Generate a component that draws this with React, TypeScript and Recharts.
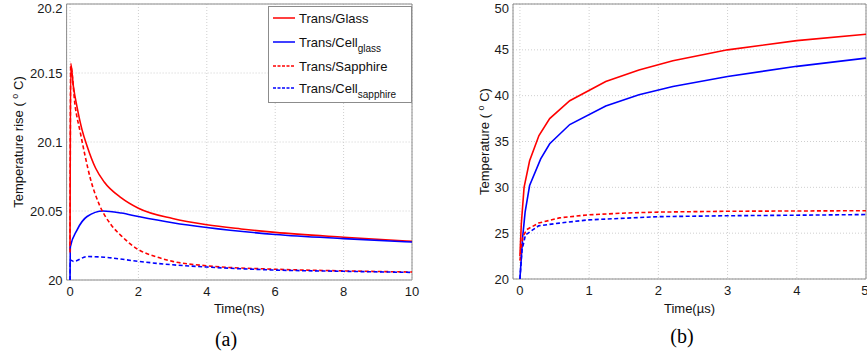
import React from "react";
import { LineChart, Line, XAxis, YAxis, CartesianGrid, ReferenceArea, Legend } from "recharts";

// (a) nanosecond window
const nsTicks = [0, 2, 4, 6, 8, 10];
const riseTicks = [20, 20.05, 20.1, 20.15, 20.2];

const glassNsTime = [0, 0.02, 0.1, 0.2, 0.35, 0.5, 0.75, 1, 1.5, 2, 3, 4, 5, 6, 8, 10];
const glassNsTemp = [20.022, 20.157, 20.14, 20.126, 20.109, 20.097, 20.081, 20.071, 20.0595, 20.052, 20.0445, 20.04, 20.037, 20.0345, 20.031, 20.028];

const cellGlassNsTime = [0, 0.01, 0.2, 0.5, 0.97, 1.5, 2, 3, 4, 6, 8, 10];
const cellGlassNsTemp = [20.0, 20.024, 20.036, 20.046, 20.05, 20.0485, 20.046, 20.0415, 20.038, 20.033, 20.03, 20.0275];

const sapphireNsTime = [0, 0.02, 0.15, 0.3, 0.44, 0.6, 0.85, 1.2, 1.5, 2, 2.5, 3, 4, 6, 8, 10];
const sapphireNsTemp = [20.02, 20.155, 20.126, 20.107, 20.09, 20.073, 20.055, 20.04, 20.032, 20.022, 20.017, 20.0135, 20.0103, 20.0078, 20.0066, 20.0058];

const cellSapphireNsTime = [0, 0.01, 0.1, 0.5, 1, 2, 3, 4, 6, 8, 10];
const cellSapphireNsTemp = [20.0, 20.0145, 20.0135, 20.017, 20.0165, 20.0135, 20.011, 20.0094, 20.0072, 20.0063, 20.0055];

// (b) microsecond window
const usTicks = [0, 1, 2, 3, 4, 5];
const tempTicks = [20, 25, 30, 35, 40, 45, 50];

const glassUsTime = [0, 0.02, 0.06, 0.14, 0.275, 0.43, 0.72, 1.24, 1.72, 2.21, 3, 4, 5];
const glassUsTemp = [22.5, 26, 30, 32.9, 35.65, 37.5, 39.45, 41.55, 42.8, 43.8, 45.0, 46.0, 46.7];

const cellGlassUsTime = [0, 0.04, 0.075, 0.14, 0.3, 0.43, 0.72, 1.24, 1.72, 2.21, 3, 4, 5];
const cellGlassUsTemp = [20, 24.6, 27.3, 30.2, 33.1, 34.75, 36.85, 38.88, 40.1, 41.0, 42.1, 43.2, 44.1];

const sapphireUsTime = [0, 0.04, 0.1, 0.27, 0.57, 0.99, 1.53, 2, 3, 4, 5];
const sapphireUsTemp = [22, 24.6, 25.4, 26.1, 26.67, 27.0, 27.2, 27.3, 27.39, 27.42, 27.45];

const cellSapphireUsTime = [0, 0.03, 0.08, 0.27, 0.57, 0.99, 2, 3, 4, 5];
const cellSapphireUsTemp = [20, 23.15, 24.8, 25.8, 26.1, 26.45, 26.8, 26.9, 26.96, 27.03];

const seriesNames = ["Trans/Glass", "Trans/Cell", "Trans/Sapphire", "Trans/Cell"];
const seriesSubs = ["", "glass", "", "sapphire"];
const seriesColors = ["#ff0000", "#0000ff", "#ff0000", "#0000ff"];
const seriesDashed = [false, false, true, true];

const zip = (t: number[], v: number[]) => t.map((x, i) => ({ t: x, v: v[i] }));

const nsData = [
  zip(glassNsTime, glassNsTemp),
  zip(cellGlassNsTime, cellGlassNsTemp),
  zip(sapphireNsTime, sapphireNsTemp),
  zip(cellSapphireNsTime, cellSapphireNsTemp),
];
const usData = [
  zip(glassUsTime, glassUsTemp),
  zip(cellGlassUsTime, cellGlassUsTemp),
  zip(sapphireUsTime, sapphireUsTemp),
  zip(cellSapphireUsTime, cellSapphireUsTemp),
];

const FONT = "'Liberation Sans', Arial, sans-serif";
const tickStyle = { fill: "#1a1a1a", fontSize: 13, fontFamily: FONT };
const BOX = "#8c8c8c";

function LegendBox() {
  const rows = [12, 36, 60, 82];
  return (
    <svg width={144} height={97} style={{ display: "block" }}>
      <rect x={0.5} y={0.5} width={143} height={96} fill="#fff" stroke={BOX} />
      {seriesNames.map((name, i) => (
        <g key={i}>
          <line x1={5} x2={27} y1={rows[i]} y2={rows[i]} stroke={seriesColors[i]} strokeWidth={1.5}
            strokeDasharray={seriesDashed[i] ? "3 1.5" : undefined} />
          <text x={31} y={rows[i] + 4.5} fontSize={13} fontFamily={FONT} fill="#111">
            {name}
            {seriesSubs[i] && <tspan dy={5} fontSize={10}>{seriesSubs[i]}</tspan>}
          </text>
        </g>
      ))}
    </svg>
  );
}

function yLabel(text: string, dx: number) {
  return {
    content: (props: any) => {
      const vb = props.viewBox || {};
      const x = vb.x + dx;
      const y = vb.y + vb.height / 2;
      return (
        <text x={x} y={y} transform={`rotate(-90, ${x}, ${y})`} textAnchor="middle" fontSize={13} fontFamily={FONT} fill="#111">
          {text} ( <tspan dy={-5} fontSize={9}>o</tspan><tspan dy={5}> C)</tspan>
        </text>
      );
    },
  };
}

function xLabel(text: string, dy: number) {
  return {
    content: (props: any) => {
      const vb = props.viewBox || {};
      return (
        <text x={vb.x + vb.width / 2} y={vb.y + dy} textAnchor="middle" fontSize={13} fontFamily={FONT} fill="#111">
          {text}
        </text>
      );
    },
  };
}

function renderLines(sets: { t: number; v: number }[][], curve: "monotone" | "linear") {
  return sets.map((d, i) => (
    <Line key={i} data={d} dataKey="v" name={seriesNames[i] + seriesSubs[i]} type={curve}
      stroke={seriesColors[i]} strokeWidth={1.6} strokeDasharray={seriesDashed[i] ? "4 2.5" : undefined}
      dot={false} activeDot={false} isAnimationActive={false} />
  ));
}

export default function App() {
  return (
    <div style={{ position: "absolute", left: 0, top: 0, width: 867, height: 360, background: "#fff", overflow: "hidden" }}>
      <div style={{ position: "absolute", left: 0, top: 0 }}>
        <LineChart width={430} height={360} margin={{ top: 4, right: 18, bottom: 50, left: 0 }}>
          <CartesianGrid stroke="#cfcfcf" strokeDasharray="1 2" />
          <XAxis dataKey="t" type="number" domain={[-0.1, 10]} ticks={nsTicks} allowDataOverflow
            axisLine={false} tickLine={false} tickSize={0} tickMargin={7} height={30} tick={tickStyle}
            label={xLabel("Time(ns)", 33)} />
          <YAxis type="number" domain={[20, 20.2]} ticks={riseTicks} allowDataOverflow width={66.6}
            axisLine={false} tickLine={false} tickSize={0} tickMargin={4} tick={tickStyle}
            label={yLabel("Temperature rise", 23)} />
          <ReferenceArea x1={-0.1} x2={10} y1={20} y2={20.2} fill="none" stroke={BOX} strokeWidth={1} />
          {renderLines(nsData, "monotone")}
          <Legend layout="vertical" align="center" verticalAlign="middle"
            wrapperStyle={{ left: 268, top: 6, width: 144, height: 97 }} content={() => <LegendBox />} />
        </LineChart>
      </div>
      <div style={{ position: "absolute", left: 440, top: 0 }}>
        <LineChart width={428} height={360} margin={{ top: 4, right: 2, bottom: 51, left: 0 }}>
          <CartesianGrid stroke="#cfcfcf" strokeDasharray="1 2" />
          <XAxis dataKey="t" type="number" domain={[-0.1, 5]} ticks={usTicks} allowDataOverflow
            axisLine={false} tickLine={false} tickSize={0} tickMargin={7} height={30} tick={tickStyle}
            label={xLabel("Time(\u00b5s)", 34)} />
          <YAxis type="number" domain={[20, 50]} ticks={tempTicks} allowDataOverflow width={73}
            axisLine={false} tickLine={false} tickSize={0} tickMargin={4} tick={tickStyle}
            label={yLabel("Temperature", 49)} />
          <ReferenceArea x1={-0.1} x2={5} y1={20} y2={50} fill="none" stroke={BOX} strokeWidth={1} />
          {renderLines(usData, "linear")}
        </LineChart>
      </div>
      <div style={{ position: "absolute", left: 206, top: 328, width: 40, textAlign: "center", fontFamily: "'Liberation Serif', serif", fontSize: 20 }}>(a)</div>
      <div style={{ position: "absolute", left: 662, top: 325, width: 40, textAlign: "center", fontFamily: "'Liberation Serif', serif", fontSize: 20 }}>(b)</div>
    </div>
  );
}
